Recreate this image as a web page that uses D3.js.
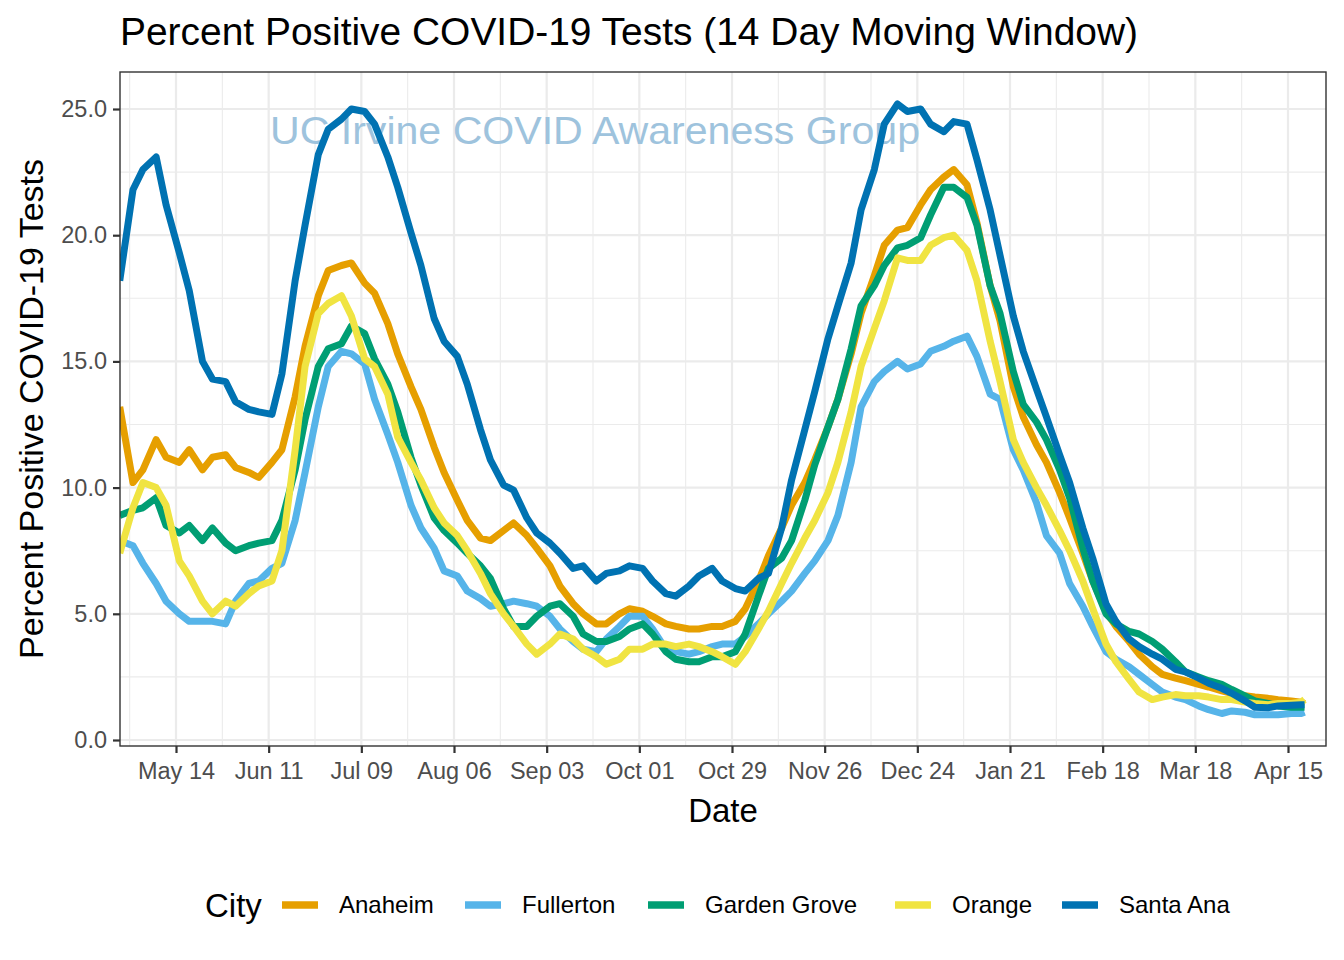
<!DOCTYPE html>
<html>
<head>
<meta charset="utf-8">
<script src="https://cdn.jsdelivr.net/npm/d3@7"></script>
<style>
  html, body { margin: 0; padding: 0; background: #fff; }
  svg { display: block; font-family: "Liberation Sans", Arial, sans-serif; }
</style>
</head>
<body>
<svg id="chart" width="1344" height="960"></svg>
<script>
// ---------------- DATA ----------------
const dates = [
  "2020-04-27","2020-05-01","2020-05-04","2020-05-08","2020-05-11","2020-05-15","2020-05-18","2020-05-22",
  "2020-05-25","2020-05-29","2020-06-01","2020-06-05","2020-06-08","2020-06-12","2020-06-15","2020-06-19",
  "2020-06-22","2020-06-26","2020-06-29","2020-07-03","2020-07-06","2020-07-10","2020-07-13","2020-07-17",
  "2020-07-20","2020-07-24","2020-07-27","2020-07-31","2020-08-03","2020-08-07","2020-08-10","2020-08-14",
  "2020-08-17","2020-08-21","2020-08-24","2020-08-28","2020-08-31","2020-09-04","2020-09-07","2020-09-11",
  "2020-09-14","2020-09-18","2020-09-21","2020-09-25","2020-09-28","2020-10-02","2020-10-05","2020-10-09",
  "2020-10-12","2020-10-16","2020-10-19","2020-10-23","2020-10-26","2020-10-30","2020-11-02","2020-11-06",
  "2020-11-09","2020-11-13","2020-11-16","2020-11-20","2020-11-23","2020-11-27","2020-11-30","2020-12-04",
  "2020-12-07","2020-12-11","2020-12-14","2020-12-18","2020-12-21","2020-12-25","2020-12-28","2021-01-01",
  "2021-01-04","2021-01-08","2021-01-11","2021-01-15","2021-01-18","2021-01-22","2021-01-25","2021-01-29",
  "2021-02-01","2021-02-05","2021-02-08","2021-02-12","2021-02-15","2021-02-19","2021-02-22","2021-02-26",
  "2021-03-01","2021-03-05","2021-03-08","2021-03-12","2021-03-15","2021-03-19","2021-03-22","2021-03-26",
  "2021-03-29","2021-04-02","2021-04-05","2021-04-09","2021-04-12","2021-04-16","2021-04-19","2021-04-20"
];

const anaheim = [
  13.2,10.2,10.7,11.9,11.2,11.0,11.5,10.7, 11.2,11.3,10.8,10.6,10.4,11.0,11.5,13.6,
  15.6,17.6,18.6,18.8,18.9,18.1,17.7,16.5, 15.3,14.0,13.1,11.6,10.6,9.5,8.7,8.0,
  7.9,8.3,8.6,8.1,7.6,6.9,6.1,5.4, 5.0,4.6,4.6,5.0,5.2,5.1,4.9,4.6,
  4.5,4.4,4.4,4.5,4.5,4.7,5.2,6.3, 7.3,8.4,9.3,10.2,11.1,12.4,13.5,15.3,
  16.9,18.4,19.6,20.2,20.3,21.2,21.8,22.3, 22.6,22.0,20.5,18.0,16.6,14.0,12.8,11.7,
  11.0,9.8,8.8,7.4,6.3,5.1,4.5,3.9, 3.4,2.9,2.6,2.45,2.35,2.2,2.1,1.95,
  1.85,1.75,1.7,1.65,1.6,1.55,1.5,1.45
];

const fullerton = [
  7.9,7.7,7.0,6.2,5.5,5.0,4.7,4.7, 4.7,4.6,5.5,6.2,6.3,6.8,7.0,8.7,
  10.6,13.2,14.8,15.4,15.3,14.9,13.5,12.1, 11.0,9.3,8.4,7.6,6.7,6.5,5.9,5.6,
  5.3,5.4,5.5,5.4,5.3,4.9,4.4,3.9, 3.6,3.5,4.0,4.5,4.9,4.9,4.4,3.6,
  3.5,3.4,3.5,3.7,3.8,3.8,4.1,4.6, 5.0,5.5,5.9,6.6,7.1,7.9,8.9,11.0,
  13.2,14.2,14.6,15.0,14.7,14.9,15.4,15.6, 15.8,16.0,15.2,13.7,13.5,11.5,10.7,9.4,
  8.1,7.4,6.2,5.3,4.5,3.5,3.2,2.9, 2.6,2.2,1.9,1.7,1.6,1.35,1.2,1.05,
  1.15,1.1,1.0,1.0,1.0,1.05,1.05,1.1
];

const gardenGrove = [
  8.9,9.1,9.2,9.6,8.5,8.2,8.5,7.9, 8.4,7.8,7.5,7.7,7.8,7.9,8.7,10.7,
  12.7,14.8,15.5,15.7,16.4,16.1,15.1,14.1, 13.0,11.2,10.1,8.8,8.3,7.8,7.4,6.9,
  6.4,5.2,4.5,4.5,4.9,5.3,5.4,4.9, 4.2,3.9,3.9,4.1,4.4,4.6,4.2,3.5,
  3.2,3.1,3.1,3.3,3.3,3.5,4.2,5.7, 6.8,7.2,7.9,9.5,10.9,12.4,13.5,15.5,
  17.2,18.0,18.8,19.5,19.6,19.9,20.8,21.9, 21.9,21.5,20.4,18.0,16.9,14.6,13.3,12.6,
  11.9,10.7,9.6,7.6,6.3,5.0,4.6,4.3, 4.2,3.9,3.6,3.1,2.7,2.5,2.35,2.2,
  2.0,1.75,1.55,1.45,1.35,1.3,1.3,1.3
];

const orange = [
  7.4,9.2,10.2,10.0,9.3,7.1,6.5,5.5, 5.0,5.5,5.3,5.8,6.1,6.3,7.5,11.5,
  14.8,16.9,17.3,17.6,16.8,15.1,14.8,13.7, 12.0,11.0,10.3,9.2,8.6,8.1,7.5,6.6,
  5.8,5.0,4.5,3.8,3.4,3.8,4.2,4.0, 3.6,3.3,3.0,3.2,3.6,3.6,3.8,3.8,
  3.7,3.8,3.7,3.5,3.3,3.0,3.5,4.4, 5.1,6.2,7.0,8.0,8.7,9.8,11.0,13.0,
  14.8,16.3,17.4,19.1,19.0,19.0,19.6,19.9, 20.0,19.4,18.2,15.8,14.2,11.9,11.0,10.0,
  9.3,8.3,7.5,6.3,5.2,3.8,3.1,2.4, 1.9,1.6,1.7,1.8,1.75,1.75,1.7,1.6,
  1.6,1.5,1.45,1.4,1.45,1.45,1.5,1.6
];

const santaAna = [
  18.2,21.8,22.6,23.1,21.2,19.3,17.8,15.0, 14.3,14.2,13.4,13.1,13.0,12.9,14.5,18.2,
  20.4,23.2,24.2,24.6,25.0,24.9,24.4,23.1, 21.9,20.1,18.8,16.7,15.8,15.2,14.1,12.3,
  11.1,10.1,9.9,8.8,8.2,7.8,7.4,6.8, 6.9,6.3,6.6,6.7,6.9,6.8,6.3,5.8,
  5.7,6.1,6.5,6.8,6.3,6.0,5.9,6.4, 6.6,8.4,10.3,12.3,13.8,15.9,17.2,18.9,
  21.0,22.6,24.4,25.2,24.9,25.0,24.4,24.1, 24.5,24.4,23.0,21.0,19.2,16.8,15.4,13.9,
  12.8,11.3,10.2,8.4,7.2,5.4,4.7,4.0, 3.7,3.4,3.2,2.8,2.7,2.45,2.25,2.05,
  1.85,1.55,1.3,1.28,1.35,1.38,1.4,1.4
];

const cities = ["Anaheim", "Fullerton", "Garden Grove", "Orange", "Santa Ana"];
const cityValues = [anaheim, fullerton, gardenGrove, orange, santaAna];
const cityColors = ["#E69F00", "#56B4E9", "#009E73", "#F0E442", "#0072B2"];

const xTickDates = ["2020-05-14","2020-06-11","2020-07-09","2020-08-06","2020-09-03","2020-10-01",
  "2020-10-29","2020-11-26","2020-12-24","2021-01-21","2021-02-18","2021-03-18","2021-04-15"];
const xTickLabels = ["May 14","Jun 11","Jul 09","Aug 06","Sep 03","Oct 01","Oct 29","Nov 26",
  "Dec 24","Jan 21","Feb 18","Mar 18","Apr 15"];
const yTicks = [0, 5, 10, 15, 20, 25];

const titleText = "Percent Positive COVID-19 Tests (14 Day Moving Window)";
const watermarkText = "UC Irvine COVID Awareness Group";
const xTitle = "Date";
const yTitle = "Percent Positive COVID-19 Tests";
const legendTitle = "City";

// ---------------- LAYOUT ----------------
const svg = d3.select("#chart");
const P = { left: 120, right: 1326, top: 72, bottom: 746 };
const parse = d3.utcParse("%Y-%m-%d");
const dayMs = 86400000;

const tFirst = parse(xTickDates[0]), tLast = parse(xTickDates[xTickDates.length - 1]);
const pxFirst = 176, pxLast = 1288;
const msPerPx = (tLast - tFirst) / (pxLast - pxFirst);
const x = d3.scaleUtc()
  .domain([new Date(+tFirst - (pxFirst - P.left) * msPerPx), new Date(+tLast + (P.right - pxLast) * msPerPx)])
  .range([P.left, P.right]);

const y = d3.scaleLinear().domain([-0.2377, 26.466]).range([P.bottom, P.top]);

// panel background
svg.append("rect").attr("x", P.left).attr("y", P.top)
  .attr("width", P.right - P.left).attr("height", P.bottom - P.top).attr("fill", "#fff");

// minor grid
const gridG = svg.append("g");
const yMinor = [2.5, 7.5, 12.5, 17.5, 22.5];
gridG.selectAll(".ymin").data(yMinor).enter().append("line")
  .attr("x1", P.left).attr("x2", P.right)
  .attr("y1", d => y(d)).attr("y2", d => y(d))
  .attr("stroke", "#ebebeb").attr("stroke-width", 1.1);
const xMinor = [];
{
  const first = +parse(xTickDates[0]) - 14 * dayMs;
  for (let t = first; t <= +x.domain()[1]; t += 14 * dayMs) {
    const isMajor = xTickDates.some(s => +parse(s) === t);
    if (!isMajor && t >= +x.domain()[0]) xMinor.push(new Date(t));
  }
}
gridG.selectAll(".xmin").data(xMinor).enter().append("line")
  .attr("x1", d => x(d)).attr("x2", d => x(d))
  .attr("y1", P.top).attr("y2", P.bottom)
  .attr("stroke", "#ebebeb").attr("stroke-width", 1.1);
// major grid
gridG.selectAll(".ymaj").data(yTicks).enter().append("line")
  .attr("x1", P.left).attr("x2", P.right)
  .attr("y1", d => y(d)).attr("y2", d => y(d))
  .attr("stroke", "#ebebeb").attr("stroke-width", 2.2);
gridG.selectAll(".xmaj").data(xTickDates).enter().append("line")
  .attr("x1", d => x(parse(d))).attr("x2", d => x(parse(d)))
  .attr("y1", P.top).attr("y2", P.bottom)
  .attr("stroke", "#ebebeb").attr("stroke-width", 2.2);

// watermark (under the lines)
svg.append("text").attr("x", 595).attr("y", 144)
  .attr("text-anchor", "middle").attr("font-size", 39)
  .attr("fill", "#9ec3dd").attr("textLength", 650).attr("lengthAdjust", "spacingAndGlyphs")
  .text(watermarkText);

// clip
svg.append("clipPath").attr("id", "clip").append("rect")
  .attr("x", P.left).attr("y", P.top).attr("width", P.right - P.left).attr("height", P.bottom - P.top);

const line = d3.line()
  .x((d, i) => x(parse(dates[i])))
  .y(d => y(d));

const linesG = svg.append("g").attr("clip-path", "url(#clip)");
cities.forEach((c, k) => {
  linesG.append("path")
    .datum(cityValues[k])
    .attr("d", line)
    .attr("fill", "none")
    .attr("stroke", cityColors[k])
    .attr("stroke-width", 7)
    .attr("stroke-linejoin", "round")
    .attr("stroke-linecap", "butt");
});

// panel border
svg.append("rect").attr("x", P.left).attr("y", P.top)
  .attr("width", P.right - P.left).attr("height", P.bottom - P.top)
  .attr("fill", "none").attr("stroke", "#333333").attr("stroke-width", 1.4);

// axes
const xAxis = d3.axisBottom(x)
  .tickValues(xTickDates.map(parse))
  .tickFormat((d, i) => xTickLabels[i])
  .tickSize(7).tickPadding(9);
const gx = svg.append("g").attr("transform", `translate(0,${P.bottom})`).call(xAxis);
gx.select(".domain").remove();
gx.selectAll(".tick line").attr("stroke", "#333333").attr("stroke-width", 2.2);
gx.selectAll(".tick text").attr("fill", "#4d4d4d").attr("font-size", 23.5)
  .attr("font-family", "Liberation Sans, Arial, sans-serif");

const yAxis = d3.axisLeft(y).tickValues(yTicks).tickFormat(d3.format(".1f"))
  .tickSize(7).tickPadding(6);
const gy = svg.append("g").attr("transform", `translate(${P.left},0)`).call(yAxis);
gy.select(".domain").remove();
gy.selectAll(".tick line").attr("stroke", "#333333").attr("stroke-width", 2.2);
gy.selectAll(".tick text").attr("fill", "#4d4d4d").attr("font-size", 23.5)
  .attr("font-family", "Liberation Sans, Arial, sans-serif");

// titles
svg.append("text").attr("x", 120).attr("y", 45)
  .attr("font-size", 38).attr("fill", "#000")
  .attr("textLength", 1018).attr("lengthAdjust", "spacingAndGlyphs")
  .text(titleText);

svg.append("text").attr("x", 723).attr("y", 822)
  .attr("text-anchor", "middle").attr("font-size", 33).attr("fill", "#000")
  .text(xTitle);

svg.append("text").attr("transform", "translate(43,409) rotate(-90)")
  .attr("text-anchor", "middle").attr("font-size", 33).attr("fill", "#000")
  .attr("textLength", 500).attr("lengthAdjust", "spacingAndGlyphs")
  .text(yTitle);

// legend
const legG = svg.append("g");
legG.append("text").attr("x", 205).attr("y", 917).attr("font-size", 33).attr("fill", "#000").text(legendTitle);
const keyX = [282, 465, 648, 895, 1062];
cities.forEach((c, k) => {
  legG.append("line").attr("x1", keyX[k]).attr("x2", keyX[k] + 36)
    .attr("y1", 905).attr("y2", 905)
    .attr("stroke", cityColors[k]).attr("stroke-width", 7.5);
  legG.append("text").attr("x", keyX[k] + 57).attr("y", 913)
    .attr("font-size", 24).attr("fill", "#000").text(c);
});
</script>
</body>
</html>
